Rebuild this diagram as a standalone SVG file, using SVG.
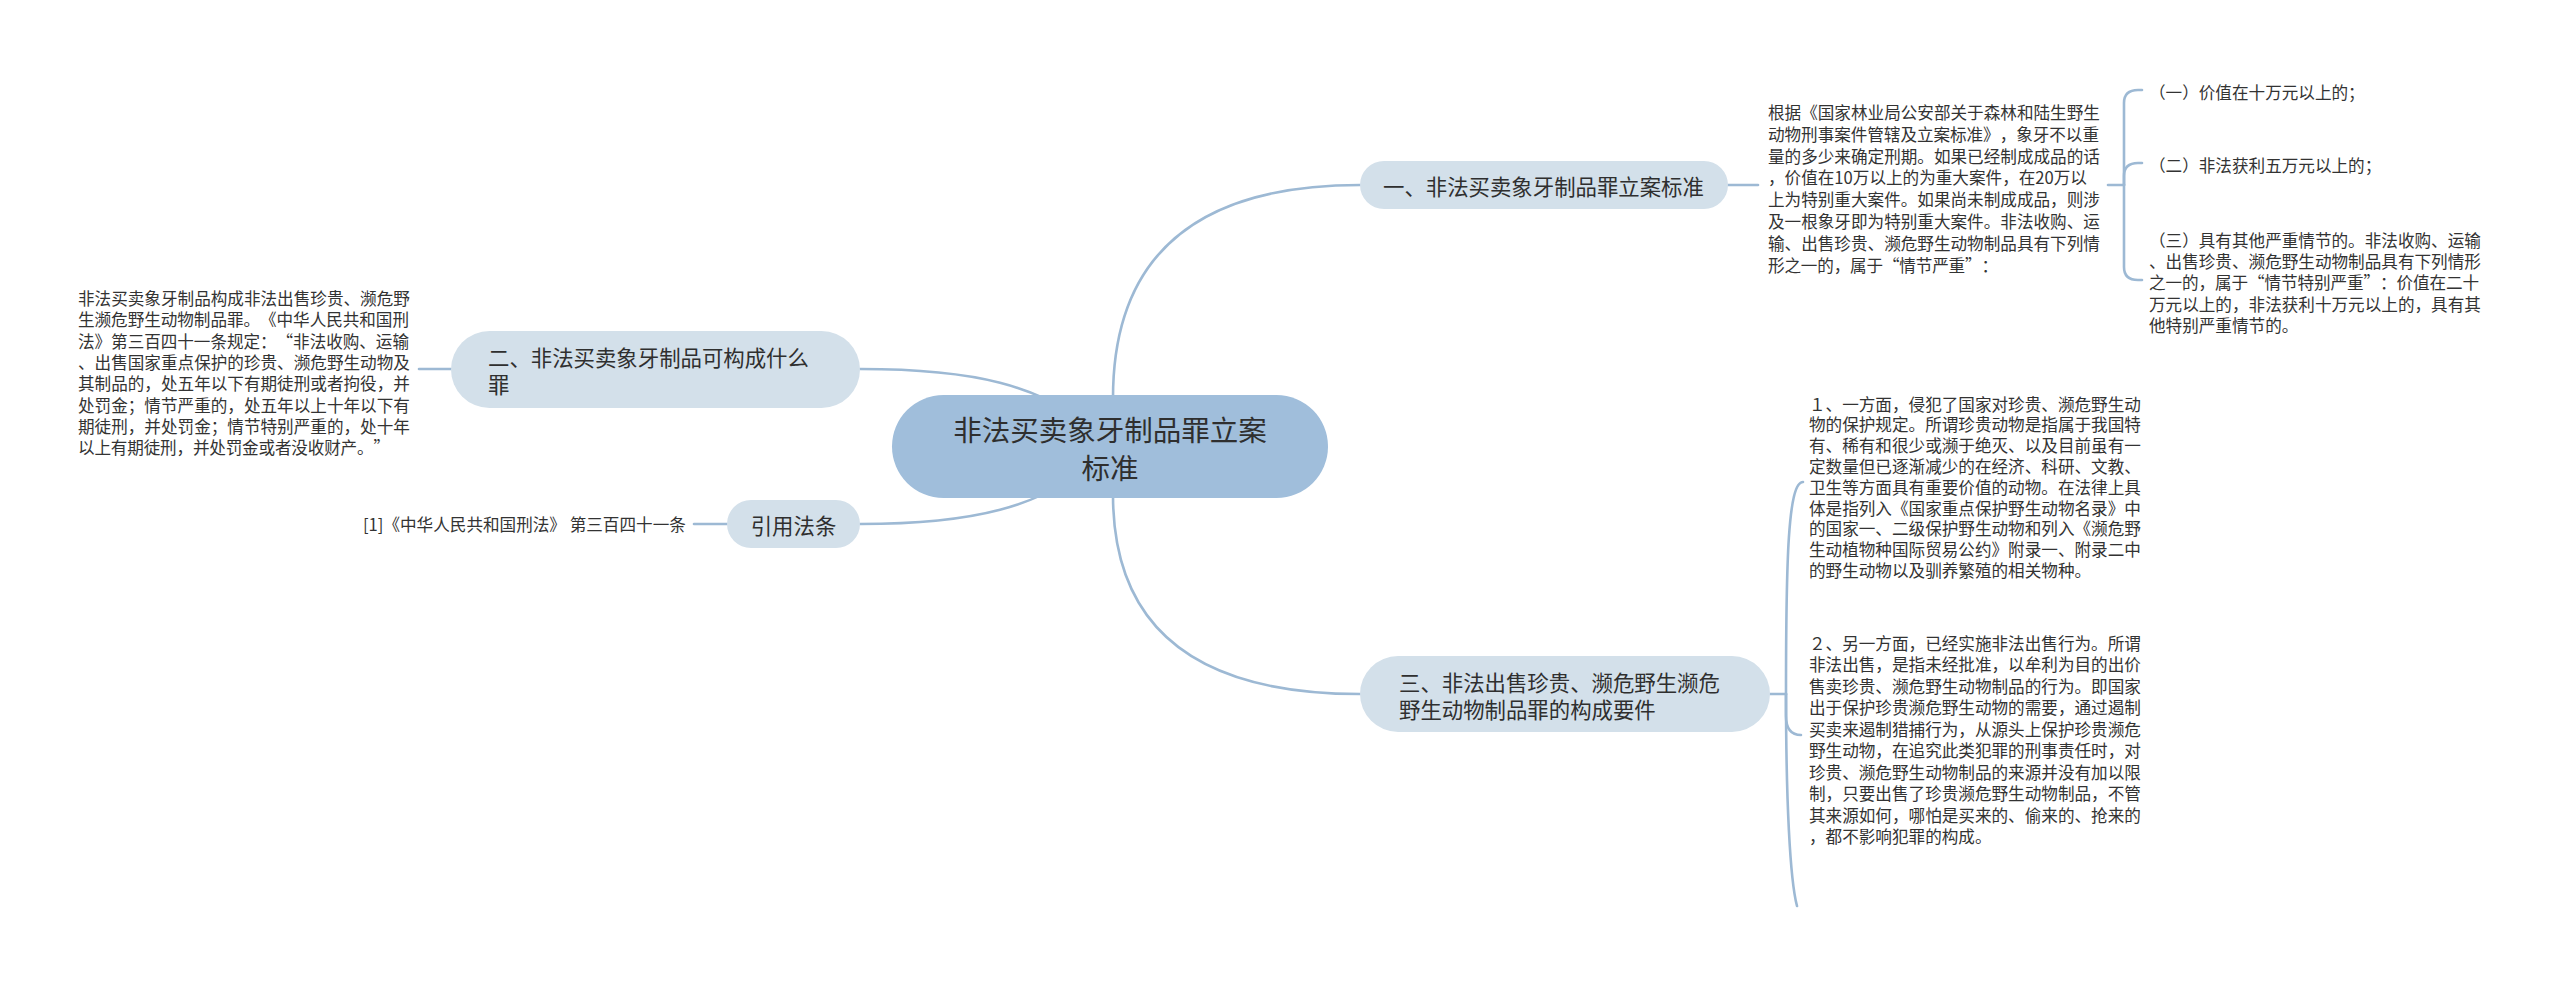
<svg xmlns="http://www.w3.org/2000/svg" width="2560" height="997" viewBox="0 0 2560 997">
<style>
.bg{fill:#ffffff}
.c{fill:none;stroke:#9db9d4;stroke-width:2.6;stroke-linecap:round}
.root{fill:#a0bedb}
.sub{fill:#d3e0ea}
text{font-family:"Noto Sans CJK SC","Noto Sans",sans-serif;fill:#2f2f2f;dominant-baseline:central;text-spacing-trim:space-all}
.tr{font-size:28.5px}
.ts{font-size:21.4px}
.tp{font-size:16.6px;fill:#333333}
</style>
<rect class="bg" x="0" y="0" width="2560" height="997"/>
<g id="connectors">
  <path class="c" d="M1113,446 V398 Q1113,185 1360,185"/>
  <path class="c" d="M1113,446 V495 Q1113,694 1360,694"/>
  <path class="c" d="M1110,446 C1050,380 960,369 860,369"/>
  <path class="c" d="M1110,446 C1050,512 960,524 860,524"/>
  <path class="c" d="M419,369 H451"/>
  <path class="c" d="M694,524 H727"/>
  <path class="c" d="M1728,185 H1758"/>
  <path class="c" d="M2108,185 H2124"/>
  <path class="c" d="M2124,185 V103 Q2124,90 2138,90 H2142"/>
  <path class="c" d="M2124,185 V176 Q2124,163 2138,163 H2142"/>
  <path class="c" d="M2124,185 V267 Q2124,280 2138,280 H2142"/>
  <path class="c" d="M1770,694 H1786"/>
  <path class="c" d="M1786,694 C1786,560 1788,482 1803,482"/>
  <path class="c" d="M1786,694 V716 Q1786,735 1801,735"/>
  <path class="c" d="M1786,694 C1786,800 1790,880 1797,906"/>
</g>
<g id="root">
  <rect class="root" x="892" y="395" width="436" height="103" rx="51.5"/>
  <text class="tr" x="1110" y="428" text-anchor="middle">非法买卖象牙制品罪立案</text>
  <text class="tr" x="1110" y="466" text-anchor="middle">标准</text>
</g>
<g id="node1">
  <rect class="sub" x="1360" y="161" width="368" height="48" rx="24"/>
  <text class="ts" x="1383" y="185">一、非法买卖象牙制品罪立案标准</text>
</g>
<g id="node1-detail">
  <text class="tp" x="1768" y="112">根据《国家林业局公安部关于森林和陆生野生</text>
  <text class="tp" x="1768" y="133.8" textLength="331" lengthAdjust="spacing">动物刑事案件管辖及立案标准》，象牙不以重</text>
  <text class="tp" x="1768" y="155.6">量的多少来确定刑期。如果已经制成成品的话</text>
  <text class="tp" x="1768" y="177.4">，价值在10万以上的为重大案件，在20万以</text>
  <text class="tp" x="1768" y="199.2">上为特别重大案件。如果尚未制成成品，则涉</text>
  <text class="tp" x="1768" y="221">及一根象牙即为特别重大案件。非法收购、运</text>
  <text class="tp" x="1768" y="242.8">输、出售珍贵、濒危野生动物制品具有下列情</text>
  <text class="tp" x="1768" y="264.6" textLength="230" lengthAdjust="spacing">形之一的，属于“情节严重”：</text>
</g>
<g id="node1-item1">
  <text class="tp" x="2149" y="91.5">（一）价值在十万元以上的；</text>
</g>
<g id="node1-item2">
  <text class="tp" x="2149" y="165">（二）非法获利五万元以上的；</text>
</g>
<g id="node1-item3">
  <text class="tp" x="2149" y="240">（三）具有其他严重情节的。非法收购、运输</text>
  <text class="tp" x="2149" y="261.2">、出售珍贵、濒危野生动物制品具有下列情形</text>
  <text class="tp" x="2149" y="282.4" textLength="330" lengthAdjust="spacing">之一的，属于“情节特别严重”：价值在二十</text>
  <text class="tp" x="2149" y="303.6">万元以上的，非法获利十万元以上的，具有其</text>
  <text class="tp" x="2149" y="324.8">他特别严重情节的。</text>
</g>
<g id="node2">
  <rect class="sub" x="451" y="331" width="409" height="77" rx="38.5"/>
  <text class="ts" x="488" y="356">二、非法买卖象牙制品可构成什么</text>
  <text class="ts" x="488" y="383">罪</text>
</g>
<g id="node2-detail">
  <text class="tp" x="78" y="298">非法买卖象牙制品构成非法出售珍贵、濒危野</text>
  <text class="tp" x="78" y="319.3" textLength="331" lengthAdjust="spacing">生濒危野生动物制品罪。《中华人民共和国刑</text>
  <text class="tp" x="78" y="340.6" textLength="331" lengthAdjust="spacing">法》第三百四十一条规定：“非法收购、运输</text>
  <text class="tp" x="78" y="361.9">、出售国家重点保护的珍贵、濒危野生动物及</text>
  <text class="tp" x="78" y="383.2">其制品的，处五年以下有期徒刑或者拘役，并</text>
  <text class="tp" x="78" y="404.5">处罚金；情节严重的，处五年以上十年以下有</text>
  <text class="tp" x="78" y="425.8">期徒刑，并处罚金；情节特别严重的，处十年</text>
  <text class="tp" x="78" y="447.1" textLength="312" lengthAdjust="spacing">以上有期徒刑，并处罚金或者没收财产。”</text>
</g>
<g id="node-cite">
  <rect class="sub" x="727" y="500" width="133" height="48" rx="24"/>
  <text class="ts" x="793.5" y="524" text-anchor="middle">引用法条</text>
</g>
<g id="node-cite-detail">
  <text class="tp" x="363" y="524">[1]《中华人民共和国刑法》 第三百四十一条</text>
</g>
<g id="node3">
  <rect class="sub" x="1360" y="656" width="410" height="76" rx="38"/>
  <text class="ts" x="1399" y="681">三、非法出售珍贵、濒危野生濒危</text>
  <text class="ts" x="1399" y="708">野生动物制品罪的构成要件</text>
</g>
<g id="node3-item1">
  <text class="tp" x="1809" y="403.5">１、一方面，侵犯了国家对珍贵、濒危野生动</text>
  <text class="tp" x="1809" y="424.3">物的保护规定。所谓珍贵动物是指属于我国特</text>
  <text class="tp" x="1809" y="445.1">有、稀有和很少或濒于绝灭、以及目前虽有一</text>
  <text class="tp" x="1809" y="465.9">定数量但已逐渐减少的在经济、科研、文教、</text>
  <text class="tp" x="1809" y="486.7">卫生等方面具有重要价值的动物。在法律上具</text>
  <text class="tp" x="1809" y="507.5">体是指列入《国家重点保护野生动物名录》中</text>
  <text class="tp" x="1809" y="528.3">的国家一、二级保护野生动物和列入《濒危野</text>
  <text class="tp" x="1809" y="549.1">生动植物种国际贸易公约》附录一、附录二中</text>
  <text class="tp" x="1809" y="569.9">的野生动物以及驯养繁殖的相关物种。</text>
</g>
<g id="node3-item2">
  <text class="tp" x="1809" y="642.5">２、另一方面，已经实施非法出售行为。所谓</text>
  <text class="tp" x="1809" y="664">非法出售，是指未经批准，以牟利为目的出价</text>
  <text class="tp" x="1809" y="685.5">售卖珍贵、濒危野生动物制品的行为。即国家</text>
  <text class="tp" x="1809" y="707">出于保护珍贵濒危野生动物的需要，通过遏制</text>
  <text class="tp" x="1809" y="728.5">买卖来遏制猎捕行为，从源头上保护珍贵濒危</text>
  <text class="tp" x="1809" y="750">野生动物，在追究此类犯罪的刑事责任时，对</text>
  <text class="tp" x="1809" y="771.5">珍贵、濒危野生动物制品的来源并没有加以限</text>
  <text class="tp" x="1809" y="793">制，只要出售了珍贵濒危野生动物制品，不管</text>
  <text class="tp" x="1809" y="814.5">其来源如何，哪怕是买来的、偷来的、抢来的</text>
  <text class="tp" x="1809" y="836">，都不影响犯罪的构成。</text>
</g>
</svg>
